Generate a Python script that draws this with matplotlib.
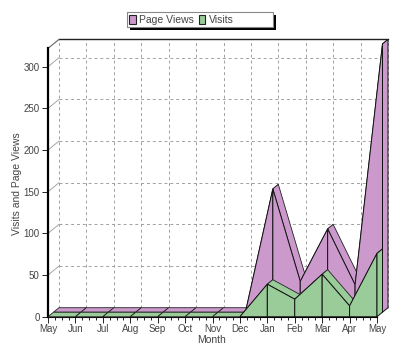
import matplotlib
matplotlib.use("Agg")
import matplotlib.pyplot as plt
from matplotlib.patches import Polygon, Patch, Rectangle

plt.rcParams["font.family"] = ["Liberation Sans", "DejaVu Sans"]

months = ["May", "Jun", "Jul", "Aug", "Sep", "Oct", "Nov", "Dec",
          "Jan", "Feb", "Mar", "Apr", "May"]
visits = [0, 0, 0, 0, 0, 0, 0, 0, 39, 21, 51, 13, 76]
page_views = [0, 0, 0, 0, 0, 0, 0, 0, 148, 37, 100, 33, 322]
y_ticks = [0, 50, 100, 150, 200, 250, 300]
y_max = 322

purple = "#cc99cc"
green = "#99cc99"
text_col = "#444444"

W, H = 400, 356

# depth offset of the back wall, in data units
dx = 11 / (329 / 12)
dy = 9 / (250 / 300)

fig = plt.figure(figsize=(4, 3.56), dpi=100)
ax = fig.add_axes([48 / W, 39.3 / H, 329 / W, 268.3 / H])
ax.set_xlim(0, len(months) - 1)
ax.set_ylim(0, y_max)
ax.patch.set_visible(False)

for s in ["top", "right"]:
    ax.spines[s].set_visible(False)
ax.spines["left"].set_linewidth(1.6)
ax.spines["bottom"].set_linewidth(0.8)

xs = list(range(len(months)))
ax.set_xticks(xs)
ax.set_xticklabels(months)
ax.set_xticks([i / 4 for i in range(4 * (len(months) - 1) + 1)], minor=True)
ax.set_yticks(y_ticks)
ax.tick_params(axis="both", labelsize=7, colors="black", labelcolor=text_col,
               length=4, width=0.6, pad=2)
ax.tick_params(axis="x", pad=1)
ax.tick_params(axis="x", which="minor", length=2, width=0.6)

# back wall grid
gkw = dict(color="#a0a0a0", lw=0.7, ls=(0, (3, 3)), zorder=1, clip_on=False)
for y in y_ticks[1:]:
    ax.plot([dx, xs[-1] + dx], [y + dy, y + dy], **gkw)
    ax.plot([0, dx], [y, y + dy], color="#999999", lw=0.6, zorder=1, clip_on=False)
for x in xs:
    ax.plot([x + dx, x + dx], [dy, y_max + dy], **gkw)
ax.plot([dx, xs[-1] + dx], [y_max + dy, y_max + dy], color="#222222", lw=1.0,
        zorder=1, clip_on=False)
ax.plot([0, dx], [y_max, y_max + dy], color="#666666", lw=0.8, zorder=1, clip_on=False)


def slab(values, z0, z1, color, z):
    n = len(values)
    a0, b0 = z0 * dx, z0 * dy
    a1, b1 = z1 * dx, z1 * dy
    for i in range(n - 1):
        pts = [(xs[i] + a0, values[i] + b0), (xs[i + 1] + a0, values[i + 1] + b0),
               (xs[i + 1] + a1, values[i + 1] + b1), (xs[i] + a1, values[i] + b1)]
        ax.add_patch(Polygon(pts, closed=True, fc=color, ec="#222222", lw=0.6,
                             zorder=z, clip_on=False))
    for i in range(n - 1):
        pts = [(xs[i] + a0, b0), (xs[i] + a0, values[i] + b0),
               (xs[i + 1] + a0, values[i + 1] + b0), (xs[i + 1] + a0, b0)]
        ax.add_patch(Polygon(pts, closed=True, fc=color, ec="#111111", lw=0.7,
                             zorder=z + 0.5, clip_on=False))
    pts = [(xs[-1] + a0, b0), (xs[-1] + a0, values[-1] + b0),
           (xs[-1] + a1, values[-1] + b1), (xs[-1] + a1, b1)]
    ax.add_patch(Polygon(pts, closed=True, fc=color, ec="#111111", lw=0.7,
                         zorder=z + 0.6, clip_on=False))


slab(page_views, 0.5, 1.0, purple, 3)
slab(visits, 0.0, 0.5, green, 5)

fig.text(212 / W, 1 - 340 / H, "Month", fontsize=7.5, color=text_col,
         ha="center", va="center")
fig.text(17 / W, 1 - 184 / H, "Visits and Page Views", fontsize=7.5, color=text_col,
         ha="center", va="center", rotation=90)

# legend box with a hard black shadow
fig.patches.append(Rectangle((130 / W, 1 - 30 / H), 146 / W, 15 / H,
                             transform=fig.transFigure, fc="black", ec="none"))
fig.patches.append(Rectangle((127 / W, 1 - 27 / H), 146 / W, 15 / H,
                             transform=fig.transFigure, fc="white", ec="#888888", lw=0.8))
handles = [Patch(fc=purple, ec="#222222", lw=0.8, label="Page Views"),
           Patch(fc=green, ec="#222222", lw=0.8, label="Visits")]
fig.legend(handles=handles, loc="center left", bbox_to_anchor=(128 / W, 1 - 20 / H),
           ncol=2, fontsize=7.5, frameon=False,
           handlelength=0.65, handleheight=0.9, handletextpad=0.35, columnspacing=0.4,
           borderpad=0.1, borderaxespad=0, labelcolor=text_col)

fig.savefig("out.png", dpi=100)
